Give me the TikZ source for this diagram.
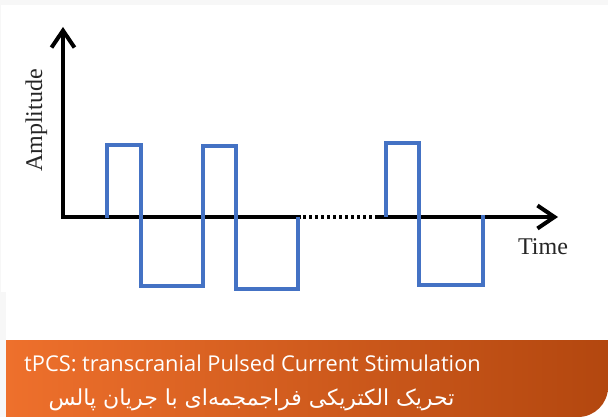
\documentclass[tikz,border=0pt]{standalone}
\usepackage{fontspec}
\setmainfont{Liberation Serif}
\newfontfamily\bannerfont{Open Sans}
\newfontfamily\arabicfont[Script=Arabic]{DejaVu Sans}
\TeXXeTstate=1
\usetikzlibrary{arrows.meta}
\definecolor{pulseblue}{HTML}{4472C4}
\definecolor{bgray}{HTML}{F7F7F7}
\definecolor{orL}{HTML}{EE702C}
\definecolor{orR}{HTML}{B3470F}
\begin{document}
\begin{tikzpicture}[x=1pt,y=-1pt,
  axis/.style={line width=4pt, black, line join=miter},
  barb/.style={-{Straight Barb[length=17pt,width=23pt]}},
  wave/.style={line width=3.3pt, pulseblue, line join=miter},
  lbl/.style={font=\fontsize{24}{28}\selectfont, inner sep=0pt, text=black!85},
  bannertext/.style={text=white, inner sep=0pt, anchor=base}]
\useasboundingbox (0,0) rectangle (608,417);
\fill[bgray] (0,0) rectangle (608,417);
\fill[white] (1,5) rectangle (608,292);
\fill[white] (6,292) rectangle (608,417);
\shade[left color=orL, right color=orR] (6,340) -- (608,340) -- (608,387)
  .. controls (608,403.6) and (594.6,417) .. (578,417) -- (6,417) -- cycle;
% axes
\coordinate (O) at (63,217);
\coordinate (Ytip) at (63,27);
\coordinate (G1) at (301,217);
\coordinate (G2) at (377,217);
\coordinate (Xtip) at (558,217);
\draw[axis, barb] (G1) -- (O) -- (Ytip);
\draw[axis, dash pattern=on 3pt off 3pt, dash phase=-2pt] (G1) -- (G2);
\draw[axis, barb] (G2) -- (Xtip);
% pulses
\draw[wave] (107,218) -- (107,145) -- (141,145) -- (141,286) -- (203,286) -- (203,146)
  -- (236,146) -- (236,289) -- (298,289) -- (298,217);
\draw[wave] (386,217) -- (386,143) -- (419,143) -- (419,285) -- (483,285) -- (483,215);
% labels
\node[lbl, anchor=base] (time) at (543,254) {Time};
\node[lbl, rotate=90, anchor=base] (amp) at (42,120.5) {Amplitude};
\node[bannertext, font=\bannerfont\fontsize{21.8}{26}\selectfont] (en) at (252.5,371)
  {tPCS: transcranial Pulsed Current Stimulation};
\node[bannertext, font=\arabicfont\fontsize{22}{26}\selectfont] (fa) at (251.5,405)
  {\beginR تحریک الکتریکی فراجمجمه‌ای با جریان پالس\endR};
\end{tikzpicture}
\end{document}
